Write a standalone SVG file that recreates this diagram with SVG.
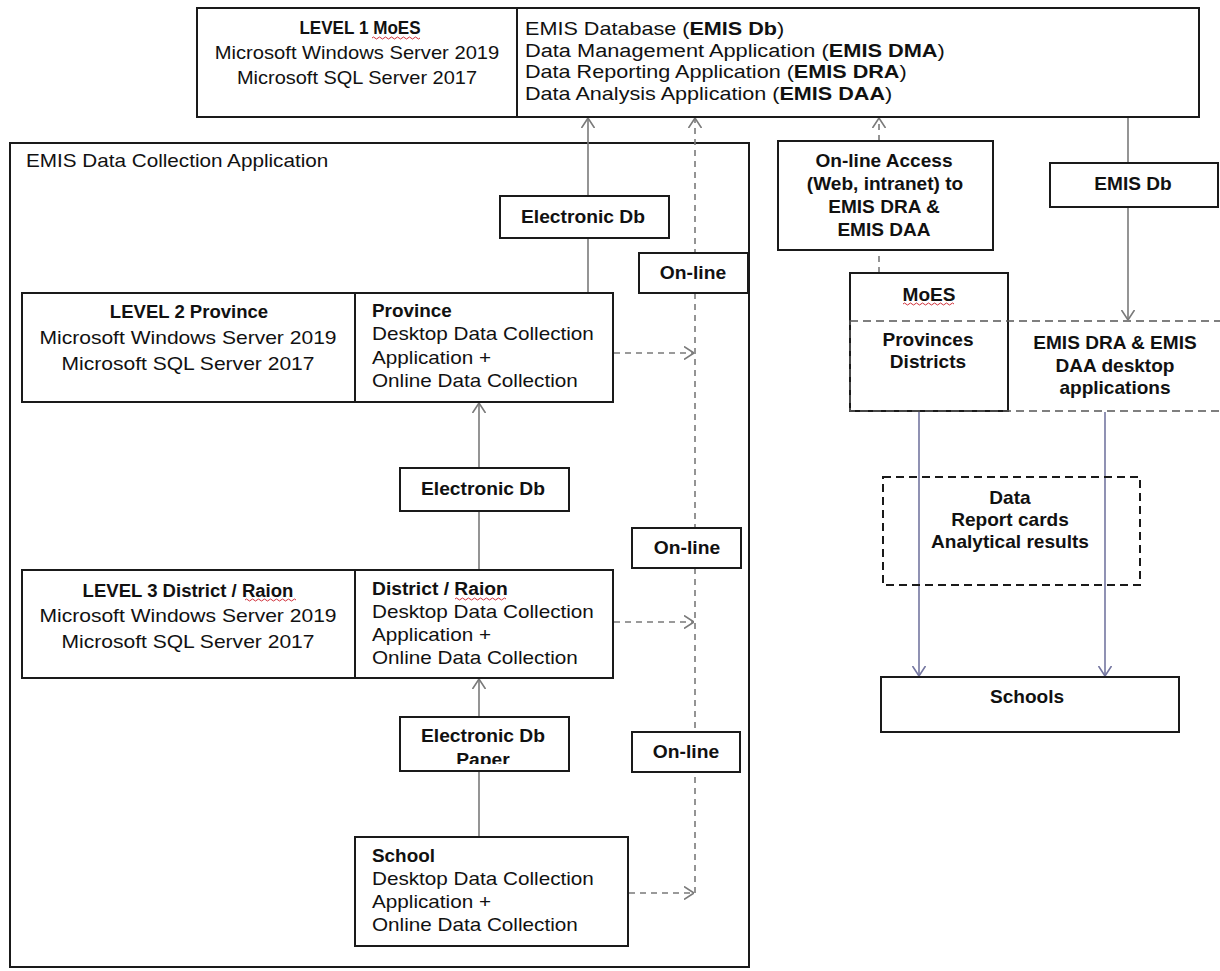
<svg xmlns="http://www.w3.org/2000/svg" width="1220" height="971" viewBox="0 0 1220 971">
  <style>
    text { font-family: "Liberation Sans", Arial, sans-serif; font-size: 18px; fill: #111; }
    .b { font-weight: bold; }
    .c { text-anchor: middle; }
    .box { fill: #fff; stroke: #1a1a1a; stroke-width: 2; }
    .dbox { fill: none; stroke: #1a1a1a; stroke-width: 2; stroke-dasharray: 8 5; }
    .gbox { fill: none; stroke: #555; stroke-width: 1.6; stroke-dasharray: 8 5; }
    .ln { fill: none; stroke: #7a7a7a; stroke-width: 1.6; marker-end: url(#arrow); }
    .dl { fill: none; stroke: #7a7a7a; stroke-width: 1.6; stroke-dasharray: 6 5; marker-end: url(#arrow); }
    .bl { fill: none; stroke: #7476a0; stroke-width: 1.6; marker-end: url(#arrowBlue); }
    .spell { fill: none; stroke: #d0303a; stroke-width: 1; }
  </style>
  <defs>
    <marker id="arrow" viewBox="0 0 10 14" refX="10" refY="7" markerWidth="10" markerHeight="14" markerUnits="userSpaceOnUse" orient="auto">
      <path d="M0,0.5 L10,7 L0,13.5" fill="none" stroke="#7a7a7a" stroke-width="1.6"/>
    </marker>
    <marker id="arrowBlue" viewBox="0 0 10 14" refX="10" refY="7" markerWidth="10" markerHeight="14" markerUnits="userSpaceOnUse" orient="auto">
      <path d="M0,0.5 L10,7 L0,13.5" fill="none" stroke="#7476a0" stroke-width="1.6"/>
    </marker>
    <!-- the paper label runs past its text frame and is cut off -->
    <clipPath id="paperClip">
      <rect x="400" y="717" width="169" height="47"/>
    </clipPath>
  </defs>

  <rect width="1220" height="971" fill="#fff"/>

  <!-- outer frame of the collection application -->
  <g id="collection-app">
    <rect x="10" y="143" width="739" height="824" fill="#fff" stroke="#1a1a1a" stroke-width="2"/>
    <text transform="translate(26 167) scale(1.15 1)">EMIS Data Collection Application</text>
  </g>

  <!-- connectors -->
  <g id="connectors">
    <line class="ln" x1="588" y1="293" x2="588" y2="118"/>
    <line class="ln" x1="479" y1="570" x2="479" y2="403"/>
    <line class="ln" x1="479" y1="837" x2="479" y2="679"/>
    <line class="dl" x1="695" y1="893" x2="695" y2="118"/>
    <line class="dl" x1="614" y1="353" x2="694" y2="353"/>
    <line class="dl" x1="614" y1="622" x2="694" y2="622"/>
    <line class="dl" x1="629" y1="893" x2="694" y2="893"/>
    <line class="dl" x1="879" y1="273" x2="879" y2="118"/>
    <line class="ln" x1="1128" y1="118" x2="1128" y2="320"/>
    <line class="bl" x1="919" y1="412" x2="919" y2="676"/>
    <line class="bl" x1="1105" y1="412" x2="1105" y2="676"/>
  </g>

  <!-- level 1 -->
  <g id="level1">
    <rect class="box" x="197" y="8" width="320" height="109"/>
    <text class="c b" transform="translate(360 34) scale(0.95 1)">LEVEL 1 MoES</text>
    <text class="c" transform="translate(357 59) scale(1.12 1)">Microsoft Windows Server 2019</text>
    <text class="c" transform="translate(357 84) scale(1.11 1)">Microsoft SQL Server 2017</text>
    <path class="spell" d="M372,38 q1.5,-2 3,0 t3,0 t3,0 t3,0 t3,0 t3,0 t3,0 t3,0 t3,0 t3,0 t3,0 t3,0 t3,0 t3,0 t3,0 t3,0"/>
  </g>
  <g id="emis-apps">
    <rect class="box" x="517" y="8" width="682" height="109"/>
    <text transform="translate(525 35) scale(1.2 1)">EMIS Database (<tspan class="b">EMIS Db</tspan>)</text>
    <text transform="translate(525 57) scale(1.21 1)">Data Management Application (<tspan class="b">EMIS DMA</tspan>)</text>
    <text transform="translate(525 78) scale(1.2 1)">Data Reporting Application (<tspan class="b">EMIS DRA</tspan>)</text>
    <text transform="translate(525 100) scale(1.2 1)">Data Analysis Application (<tspan class="b">EMIS DAA</tspan>)</text>
  </g>

  <!-- level 2 -->
  <g id="edb-1">
    <rect class="box" x="500" y="196" width="169" height="42"/>
    <text class="c b" transform="translate(583 223) scale(1.07 1)">Electronic Db</text>
  </g>
  <g id="online-1">
    <rect class="box" x="639" y="253" width="109" height="40"/>
    <text class="c b" transform="translate(693 279) scale(1.07 1)">On-line</text>
  </g>
  <g id="level2">
    <rect class="box" x="22" y="293" width="333" height="109"/>
    <text class="c b" transform="translate(189 318) scale(1.03 1)">LEVEL 2 Province</text>
    <text class="c" transform="translate(188 344) scale(1.17 1)">Microsoft Windows Server 2019</text>
    <text class="c" transform="translate(188 370) scale(1.17 1)">Microsoft SQL Server 2017</text>
  </g>
  <g id="province">
    <rect class="box" x="355" y="293" width="258" height="109"/>
    <text class="b" transform="translate(372 317) scale(1.05 1)">Province</text>
    <text transform="translate(372 340) scale(1.15 1)">Desktop Data Collection</text>
    <text transform="translate(372 364) scale(1.15 1)">Application +</text>
    <text transform="translate(372 387) scale(1.15 1)">Online Data Collection</text>
  </g>

  <!-- level 3 -->
  <g id="edb-2">
    <rect class="box" x="400" y="468" width="169" height="43"/>
    <text class="c b" transform="translate(483 495) scale(1.07 1)">Electronic Db</text>
  </g>
  <g id="online-2">
    <rect class="box" x="632" y="528" width="109" height="40"/>
    <text class="c b" transform="translate(687 554) scale(1.07 1)">On-line</text>
  </g>
  <g id="level3">
    <rect class="box" x="22" y="570" width="333" height="108"/>
    <text class="c b" transform="translate(188 597) scale(1.03 1)">LEVEL 3 District / Raion</text>
    <text class="c" transform="translate(188 622) scale(1.17 1)">Microsoft Windows Server 2019</text>
    <text class="c" transform="translate(188 648) scale(1.17 1)">Microsoft SQL Server 2017</text>
    <path class="spell" d="M245,600 q1.5,-2 3,0 t3,0 t3,0 t3,0 t3,0 t3,0 t3,0 t3,0 t3,0 t3,0 t3,0 t3,0 t3,0 t3,0 t3,0 t3,0 t3,0"/>
  </g>
  <g id="district">
    <rect class="box" x="355" y="570" width="258" height="108"/>
    <text class="b" transform="translate(372 595) scale(1.07 1)">District / Raion</text>
    <text transform="translate(372 618) scale(1.15 1)">Desktop Data Collection</text>
    <text transform="translate(372 641) scale(1.15 1)">Application +</text>
    <text transform="translate(372 664) scale(1.15 1)">Online Data Collection</text>
    <path class="spell" d="M455,599 q1.5,-2 3,0 t3,0 t3,0 t3,0 t3,0 t3,0 t3,0 t3,0 t3,0 t3,0 t3,0 t3,0 t3,0 t3,0 t3,0 t3,0 t3,0"/>
  </g>

  <!-- school level -->
  <g id="edb-paper">
    <rect class="box" x="400" y="717" width="169" height="54"/>
    <g clip-path="url(#paperClip)">
      <text class="c b" transform="translate(483 742) scale(1.07 1)">Electronic Db</text>
      <text class="c b" transform="translate(483 766) scale(1.07 1)">Paper</text>
    </g>
  </g>
  <g id="online-3">
    <rect class="box" x="632" y="732" width="108" height="40"/>
    <text class="c b" transform="translate(686 758) scale(1.07 1)">On-line</text>
  </g>
  <g id="school">
    <rect class="box" x="355" y="837" width="273" height="109"/>
    <text class="b" transform="translate(372 862) scale(1.05 1)">School</text>
    <text transform="translate(372 885) scale(1.15 1)">Desktop Data Collection</text>
    <text transform="translate(372 908) scale(1.15 1)">Application +</text>
    <text transform="translate(372 931) scale(1.15 1)">Online Data Collection</text>
  </g>

  <!-- access side -->
  <g id="online-access">
    <rect class="box" x="778" y="141" width="215" height="109"/>
    <text class="c b" transform="translate(884 167) scale(1.06 1)">On-line Access</text>
    <text class="c b" transform="translate(885 190) scale(1.06 1)">(Web, intranet) to</text>
    <text class="c b" transform="translate(884 213) scale(1.06 1)">EMIS DRA &amp;</text>
    <text class="c b" transform="translate(884 236) scale(1.06 1)">EMIS DAA</text>
  </g>
  <g id="emis-db">
    <rect class="box" x="1050" y="163" width="168" height="44"/>
    <text class="c b" transform="translate(1133 190) scale(1.06 1)">EMIS Db</text>
  </g>
  <g id="moes">
    <rect class="box" x="850" y="273" width="158" height="138"/>
    <text class="c b" transform="translate(929 301) scale(1.06 1)">MoES</text>
    <text class="c b" transform="translate(928 346) scale(1.06 1)">Provinces</text>
    <text class="c b" transform="translate(928 368) scale(1.06 1)">Districts</text>
    <path class="spell" d="M903,304 q1.5,-2 3,0 t3,0 t3,0 t3,0 t3,0 t3,0 t3,0 t3,0 t3,0 t3,0 t3,0 t3,0 t3,0 t3,0 t3,0 t3,0 t3,0"/>
  </g>
  <g id="desktop-apps">
    <rect class="gbox" x="850" y="321" width="380" height="90"/>
    <text class="c b" transform="translate(1115 349) scale(1.06 1)">EMIS DRA &amp; EMIS</text>
    <text class="c b" transform="translate(1115 372) scale(1.06 1)">DAA desktop</text>
    <text class="c b" transform="translate(1115 394) scale(1.06 1)">applications</text>
  </g>
  <g id="outputs">
    <rect class="dbox" x="883" y="477" width="257" height="108"/>
    <text class="c b" transform="translate(1010 504) scale(1.06 1)">Data</text>
    <text class="c b" transform="translate(1010 526) scale(1.06 1)">Report cards</text>
    <text class="c b" transform="translate(1010 548) scale(1.06 1)">Analytical results</text>
  </g>
  <g id="schools">
    <rect class="box" x="881" y="677" width="298" height="55"/>
    <text class="c b" transform="translate(1027 703) scale(1.06 1)">Schools</text>
  </g>
</svg>
